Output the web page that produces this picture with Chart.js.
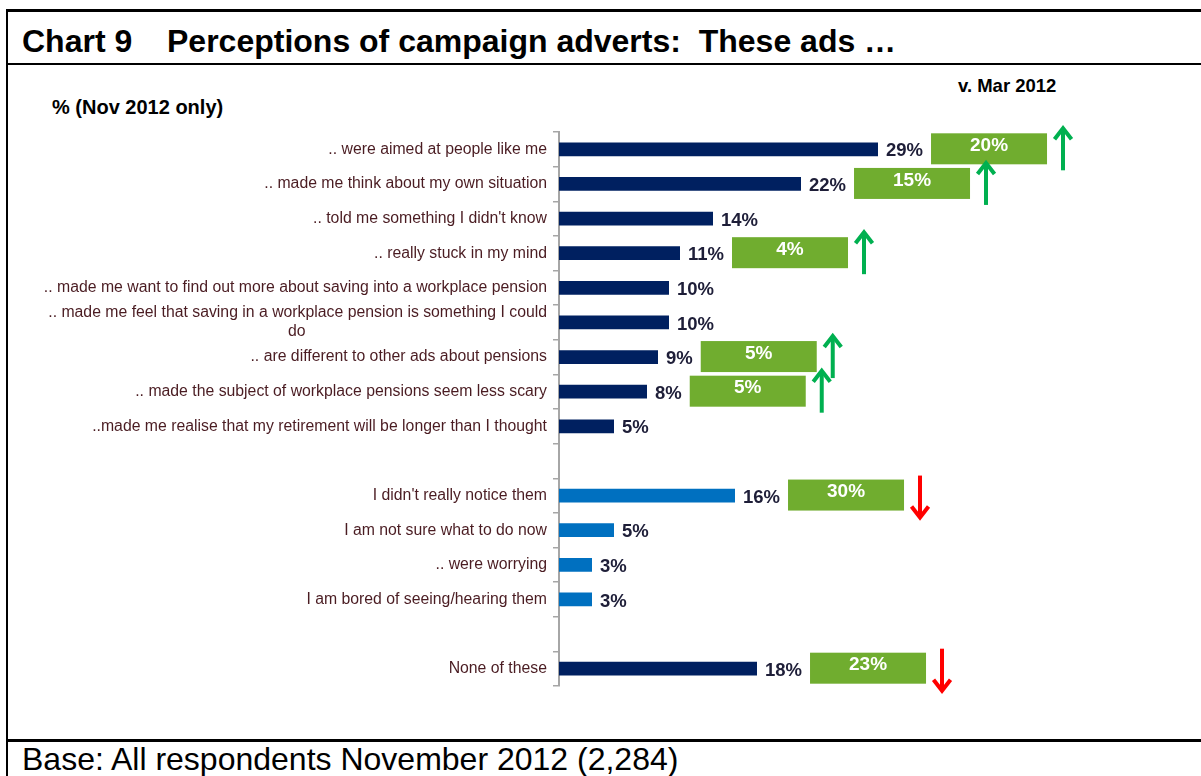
<!DOCTYPE html>
<html>
<head>
<meta charset="utf-8">
<script src="https://cdn.jsdelivr.net/npm/chart.js@4/dist/chart.umd.min.js"></script>
<style>
  html, body { margin: 0; padding: 0; background: #fff; }
  body { width: 1201px; height: 776px; position: relative; overflow: hidden;
         font-family: "Liberation Sans", Arial, sans-serif; }
  .rule { position: absolute; background: #000; }
  .txt { position: absolute; white-space: nowrap; color: #000; }
  .title { top: 25px; font-size: 32px; font-weight: bold; line-height: 32px; }
  #titleNum { left: 22px; }
  #titleText { left: 167px; }
  #footer { left: 22px; top: 743px; font-size: 32px; line-height: 32px; }
  #unit { left: 52px; top: 97px; font-size: 20px; line-height: 20px; font-weight: bold; }
  #compare { left: 958px; top: 76px; font-size: 18.5px; line-height: 19px; font-weight: bold; }
  #chartBox { position: absolute; left: 8px; top: 66px; width: 1193px; height: 672px; }
</style>
</head>
<body>
  <div class="rule" style="left:6px; top:9px; right:0; height:3px;"></div>
  <div class="rule" style="left:6px; top:9px; width:2px; bottom:0;"></div>
  <div class="rule" style="left:6px; top:63px; right:0; height:2px;"></div>
  <div class="rule" style="left:6px; top:739px; right:0; height:3px;"></div>

  <div class="txt title" id="titleNum">Chart 9</div>
  <div class="txt title" id="titleText">Perceptions of campaign adverts:&nbsp; These ads …</div>
  <div class="txt" id="unit">% (Nov 2012 only)</div>
  <div class="txt" id="compare">v. Mar 2012</div>
  <div class="txt" id="footer">Base: All respondents November 2012 (2,284)</div>

  <div id="chartBox"><canvas id="chart" width="1193" height="672"></canvas></div>

<script>
// Statements about the campaign adverts (blank entries are spacer rows)
const categories = [
  '.. were aimed at people like me',
  '.. made me think about my own situation',
  '.. told me something I didn\'t know',
  '.. really stuck in my mind',
  '.. made me want to find out more about saving into a workplace pension',
  ['.. made me feel that saving in a workplace pension is something I could', 'do'],
  '.. are different to other ads about pensions',
  '.. made the subject of workplace pensions seem less scary',
  '..made me realise that my retirement will be longer than I thought',
  '',
  'I didn\'t really notice them',
  'I am not sure what to do now',
  '.. were worrying',
  'I am bored of seeing/hearing them',
  '',
  'None of these'
];

// % agreeing, November 2012
const nov2012 = [29, 22, 14, 11, 10, 10, 9, 8, 5, null, 16, 5, 3, 3, null, 18];

// % agreeing, March 2012 (only where the change was significant)
const mar2012 = [20, 15, null, 4, null, null, 5, 5, null, null, 30, null, null, null, null, 23];

// Reactions shown in the lighter blue
const reactionRows = [
  'I didn\'t really notice them',
  'I am not sure what to do now',
  '.. were worrying',
  'I am bored of seeing/hearing them'
];

const NAVY = '#002060';
const LIGHT_BLUE = '#0070c0';
const BOX_GREEN = '#70ad2f';
const UP_GREEN = '#00b050';
const DOWN_RED = '#ff0000';
const FONT = '"Liberation Sans", Arial, sans-serif';
const LABEL_SIZE = 15.8;

// Centre the wrapped second line of a two-line label under the first line
function centreWrapped(label) {
  if (!Array.isArray(label)) return label;
  const c = document.createElement('canvas').getContext('2d');
  c.font = LABEL_SIZE + 'px ' + FONT;
  const w0 = c.measureText(label[0]).width;
  const w1 = c.measureText(label[1]).width;
  const sp = c.measureText(' ').width;
  const n = Math.max(0, Math.round((w0 - w1) / 2 / sp));
  return [label[0], label[1] + ' '.repeat(n)];
}

function drawArrow(ctx, x, yc, up, color) {
  const half = 21, head = 11, wing = 8.5;
  const tip = up ? yc - half : yc + half;
  const tail = up ? yc + half : yc - half;
  const dir = up ? 1 : -1;
  ctx.save();
  ctx.strokeStyle = color;
  ctx.lineWidth = 4;
  ctx.lineCap = 'butt';
  ctx.lineJoin = 'miter';
  ctx.beginPath();
  ctx.moveTo(x, tail);
  ctx.lineTo(x, tip + dir * 1);
  ctx.stroke();
  ctx.beginPath();
  ctx.moveTo(x - wing, tip + dir * head);
  ctx.lineTo(x, tip);
  ctx.lineTo(x + wing, tip + dir * head);
  ctx.stroke();
  ctx.restore();
}

// Value labels, March 2012 comparison boxes and change arrows
const annotatePlugin = {
  id: 'annotate',
  afterDatasetsDraw(chart) {
    const ctx = chart.ctx;
    const meta = chart.getDatasetMeta(0);
    meta.data.forEach((bar, i) => {
      const v = nov2012[i];
      if (v === null) return;
      const label = v + '%';
      ctx.save();
      ctx.font = 'bold 18.5px ' + FONT;
      ctx.fillStyle = '#1e1e38';
      ctx.textAlign = 'left';
      ctx.textBaseline = 'middle';
      const lx = bar.x + 8;
      ctx.fillText(label, lx, bar.y + 2);
      const lw = ctx.measureText(label).width;
      ctx.restore();

      const m = mar2012[i];
      if (m === null) return;
      const bw = 116, bh = 31;
      const bx = lx + lw + 8;
      const by = bar.y - 16;
      ctx.save();
      ctx.fillStyle = BOX_GREEN;
      ctx.fillRect(bx, by, bw, bh);
      ctx.fillStyle = '#ffffff';
      ctx.font = 'bold 19px ' + FONT;
      ctx.textAlign = 'center';
      ctx.textBaseline = 'middle';
      ctx.fillText(m + '%', bx + bw / 2, by + bh / 2 - 3);
      ctx.restore();

      const up = v > m;
      drawArrow(ctx, bx + bw + 16, bar.y + (up ? 0 : 1), up, up ? UP_GREEN : DOWN_RED);
    });
  }
};

new Chart(document.getElementById('chart'), {
  type: 'bar',
  data: {
    labels: categories.map(centreWrapped),
    datasets: [{
      data: nov2012,
      backgroundColor: categories.map(c => reactionRows.includes(c) ? LIGHT_BLUE : NAVY),
      borderWidth: 0,
      barPercentage: 0.4,
      categoryPercentage: 1.0
    }]
  },
  options: {
    indexAxis: 'y',
    responsive: false,
    devicePixelRatio: 1,
    animation: false,
    layout: { padding: { top: 66, bottom: 52, right: 92, left: 0 } },
    plugins: {
      legend: { display: false },
      tooltip: { enabled: false }
    },
    scales: {
      x: {
        display: false,
        min: 0,
        max: 50
      },
      y: {
        offset: true,
        afterFit(scale) { scale.width = 551; },
        grid: {
          offset: true,
          drawOnChartArea: false,
          drawTicks: true,
          tickLength: 6,
          color: '#a6a6a6',
          lineWidth: 1.5
        },
        border: { display: true, color: '#a6a6a6', width: 2 },
        ticks: {
          padding: 6,
          autoSkip: false,
          color: '#4a1c22',
          font: { family: FONT, size: LABEL_SIZE },
          lineHeight: 1.1
        }
      }
    }
  },
  plugins: [annotatePlugin]
});
</script>
</body>
</html>
